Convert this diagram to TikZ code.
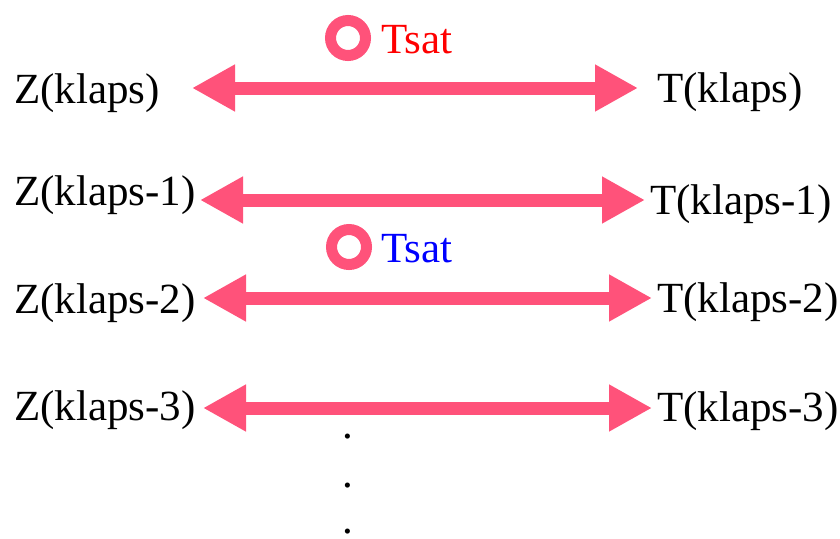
\documentclass[tikz,border=0pt]{standalone}
\usepackage{fontspec}
\newfontfamily\labelfont{Liberation Serif}
\usetikzlibrary{arrows.meta}
\definecolor{arrowpink}{RGB}{255,82,122}
\begin{document}
\begin{tikzpicture}[x=1pt,y=-1pt,
  every node/.style={inner sep=0pt,outer sep=0pt,font=\fontsize{43}{50}\labelfont},
  lbl/.style={anchor=base west},
  biarrow/.style={arrowpink,line width=13pt,
    {Triangle[length=43pt,width=44pt]}-{Triangle[length=43pt,width=44pt]}},
  ring/.style={circle,draw=arrowpink,line width=11pt,minimum size=35pt},
  dotmark/.style={anchor=base}
]
\useasboundingbox (0,0) rectangle (840,538);

% end labels
\node[lbl] (z0) at (14,103) {Z(klaps)};
\node[lbl] (t0) at (657,102) {T(klaps)};
\node[lbl] (z1) at (14,205) {Z(klaps-1)};
\node[lbl] (t1) at (650,214) {T(klaps-1)};
\node[lbl] (z2) at (14,313) {Z(klaps-2)};
\node[lbl] (t2) at (657,312) {T(klaps-2)};
\node[lbl] (z3) at (14,420) {Z(klaps-3)};
\node[lbl] (t3) at (657,421) {T(klaps-3)};

% arrow end points
\coordinate (a0l) at (192,88);  \coordinate (a0r) at (638,88);
\coordinate (a1l) at (200,200); \coordinate (a1r) at (645,200);
\coordinate (a2l) at (203,298); \coordinate (a2r) at (652,298);
\coordinate (a3l) at (203,408); \coordinate (a3r) at (652,408);

\draw[biarrow] (a0l) -- (a0r);
\draw[biarrow] (a1l) -- (a1r);
\draw[biarrow] (a2l) -- (a2r);
\draw[biarrow] (a3l) -- (a3r);

% Tsat markers
\node[ring] (r0) at (348,38) {};
\node[lbl,text=red] (s0) at (381,53) {Tsat};
\node[ring] (r1) at (349,247) {};
\node[lbl,text=blue] (s1) at (381,262) {Tsat};

% vertical ellipsis
\node[dotmark] (d0) at (348,438) {.};
\node[dotmark] (d1) at (348,487) {.};
\node[dotmark] (d2) at (348,533) {.};
\end{tikzpicture}
\end{document}
